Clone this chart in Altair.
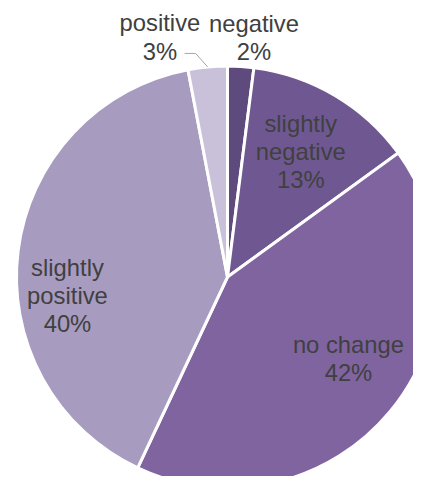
import altair as alt
import pandas as pd

categories = ["negative", "slightly negative", "no change", "slightly positive", "positive"]
values = [2, 13, 42, 40, 3]
colors = ["#5e4a7d", "#6f5891", "#7f64a0", "#a89bc0", "#c9c1da"]

df = pd.DataFrame({"cat": categories, "value": values, "idx": list(range(len(categories)))})

W, H = 405, 468
CX, CY, R = 219.5, 269, 211
TAU = 6.283185307179586
LH = 28.3

base = alt.Chart(df).transform_joinaggregate(
    total="sum(value)"
).transform_window(
    cum="sum(value)", sort=[alt.SortField("idx")], frame=[None, 0]
).transform_calculate(
    start="(datum.cum - datum.value) / datum.total",
    end="datum.cum / datum.total",
    mid="(datum.cum - datum.value / 2) / datum.total",
    pct="datum.value + '%'",
)

theta_scale = alt.Scale(domain=[0, 1], range=[0, TAU])

arcs = base.mark_arc(radius=R, stroke="white", strokeWidth=3, clip=True).encode(
    x=alt.value(CX),
    y=alt.value(CY),
    theta=alt.Theta("start:Q", scale=theta_scale, stack=None),
    theta2="end:Q",
    color=alt.Color("cat:N", scale=alt.Scale(domain=categories, range=colors), legend=None),
)

# leader line for the "positive" label
lead = base.transform_filter(alt.datum.cat == "positive").transform_calculate(
    ex=f"{CX} + {R} * sin(datum.mid * {TAU})",
    ey=f"{CY} - {R} * cos(datum.mid * {TAU})",
).transform_calculate(
    kx="datum.ex - 12",
    ky="datum.ey - 13.5",
).transform_calculate(
    hx="datum.kx - 11",
)
lead1 = lead.mark_rule(color="#a6a6a6", strokeWidth=1).encode(
    x=alt.X("ex:Q", scale=None), y=alt.Y("ey:Q", scale=None),
    x2="kx:Q", y2="ky:Q",
)
lead2 = lead.mark_rule(color="#a6a6a6", strokeWidth=1).encode(
    x=alt.X("kx:Q", scale=None), y=alt.Y("ky:Q", scale=None),
    x2="hx:Q", y2="ky:Q",
)

label_specs = [
    ("negative", 238.4, 11.5, 0, False),
    ("positive", 239.6, -45, 0, False),
    ("slightly negative", 144, 0, 0, True),
    ("no change", 147, 7.7, -10.5, False),
    ("slightly positive", 160, -1.3, 40, True),
]

texts = []
for cat, rad, dx, dy, wrap in label_specs:
    expr = "replace(datum.cat, ' ', '|') + '|' + datum.pct" if wrap else "datum.cat + '|' + datum.pct"
    nlines = 3 if wrap else 2
    t = base.transform_filter(alt.datum.cat == cat).transform_calculate(
        lab=expr
    ).mark_text(
        radius=rad, dx=dx, dy=dy - (nlines - 1) * LH / 2, lineBreak="|", lineHeight=LH,
        font="Liberation Sans", fontSize=23.8, color="#404040",
        align="center", baseline="middle",
    ).encode(
        x=alt.value(CX),
        y=alt.value(CY),
        theta=alt.Theta("mid:Q", scale=theta_scale, stack=None),
        text="lab:N",
    )
    texts.append(t)

chart = alt.layer(arcs, lead1, lead2, *texts).properties(
    width=W, height=H, autosize=alt.AutoSizeParams(type="none"), padding=0
).configure_view(stroke=None)

chart.save("out.html", embed_options={"renderer": "svg", "actions": False})
